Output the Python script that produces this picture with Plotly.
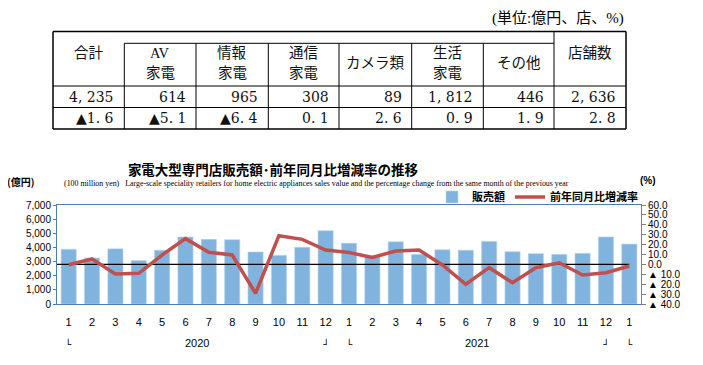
import plotly.graph_objects as go

# ---------------- data ----------------
months = ["1", "2", "3", "4", "5", "6", "7", "8", "9", "10", "11", "12",
          "1", "2", "3", "4", "5", "6", "7", "8", "9", "10", "11", "12", "1"]
years = ["2020", "2021"]
sales = [3870, 3250, 3900, 3070, 3800, 4740, 4570, 4550, 3680, 3440, 4010, 5180,
         4300, 3420, 4400, 3510, 3840, 3800, 4430, 3700, 3560, 3510, 3580, 4740, 4235]
rate = [-0.3, 5.5, -9.7, -9.0, 9.5, 26.0, 12.2, 9.5, -29.2, 29.0, 25.3, 14.5,
        12.0, 7.1, 13.5, 14.5, -0.6, -20.1, -3.3, -18.5, -3.3, 1.7, -10.7, -8.4, -1.6]
left_ticks = [0, 1000, 2000, 3000, 4000, 5000, 6000, 7000]
right_ticks = [-40, -30, -20, -10, 0, 10, 20, 30, 40, 50, 60]
right_tick_text = ["▲ 40.0", "▲ 30.0", "▲ 20.0", "▲ 10.0", "0.0", "10.0", "20.0",
                   "30.0", "40.0", "50.0", "60.0"]

table_cols = ["合計", "AV<br>家電", "情報<br>家電", "通信<br>家電", "カメラ類",
              "生活<br>家電", "その他", "店舗数"]
table_values = [4235, 614, 965, 308, 89, 1812, 446, 2636]
table_changes = [-1.6, -5.1, -6.4, 0.1, 2.6, 0.9, 1.9, 2.8]

# ---------------- layout helpers ----------------
OFF = 8  # default page body margin
W, H = 703 - OFF, 365 - OFF
# plot area in window pixels
RL, RR, RT, RB = 57, 641, 205, 304
PL, PR, PT, PB = RL - OFF, RR - OFF, RT - OFF, RB - OFF


def px(x):
    return (x - RL) / (RR - RL)


def py(y):
    return (RB - y) / (RB - RT)


n = len(months)
xs = list(range(n))

fig = go.Figure()
fig.add_trace(go.Bar(
    x=xs, y=sales, name="販売額",
    marker=dict(color="#80b4de", line=dict(color="#b8d3ec", width=0.6)),
    yaxis="y",
))
# zero reference line of the percentage axis
fig.add_trace(go.Scatter(
    x=[-0.5, n - 1], y=[0, 0], mode="lines", yaxis="y2",
    line=dict(color="black", width=1.2), showlegend=False, hoverinfo="skip",
))
fig.add_trace(go.Scatter(
    x=xs, y=rate, name="前年同月比増減率", mode="lines", yaxis="y2",
    line=dict(color="#c0504d", width=3.5),
))

anns = []
shapes = []

# year labels and bracket marks
year_pos = [(0 + 11) / 2, (12 + 23) / 2]
for yv, pos in zip(years, year_pos):
    anns.append(dict(x=pos, y=py(343), xref="x", yref="paper", text=yv, showarrow=False,
                     font=dict(family="Liberation Sans", size=11, color="black"),
                     xanchor="center", yanchor="middle"))
for idx, ch in [(0, "└"), (11, "┘"), (12, "└"), (23, "┘"), (24, "└")]:
    anns.append(dict(x=idx, y=py(344), xref="x", yref="paper", text=ch, showarrow=False,
                     font=dict(family="DejaVu Sans", size=10, color="black"),
                     xanchor="center", yanchor="middle"))

# axis unit labels
anns.append(dict(x=px(21), y=py(181), xref="paper", yref="paper", text="<b>(億円)</b>",
                 showarrow=False, xanchor="center", yanchor="middle",
                 font=dict(family="Noto Sans CJK JP", size=10, color="black")))
anns.append(dict(x=px(648), y=py(180), xref="paper", yref="paper", text="<b>(%)</b>",
                 showarrow=False, xanchor="center", yanchor="middle",
                 font=dict(family="Liberation Sans", size=10, color="black")))
# subtitle
anns.append(dict(x=px(62), y=py(183), xref="paper", yref="paper",
                 text="(100 million yen)&nbsp;&nbsp;&nbsp;Large-scale speciality retailers for home electric "
                      "appliances sales value and the percentage change from the same month of the previous year",
                 showarrow=False, xanchor="left", yanchor="middle",
                 font=dict(family="Liberation Serif", size=7.9, color="black")))
# unit note above table
anns.append(dict(x=px(626), y=py(18), xref="paper", yref="paper", text="(単位:億円、店、%)",
                 showarrow=False, xanchor="right", yanchor="middle",
                 font=dict(family="Liberation Serif, Noto Sans CJK JP", size=15, color="black")))

# ---------------- table ----------------
cols_x = [53, 124.3, 196, 268.3, 339, 411.7, 483.3, 554, 626]
T_TOP, T_IN, T_HB, T_R2, T_BOT = 31.5, 43.3, 86, 107.5, 129


def line(x0, y0, x1, y1, w=1):
    shapes.append(dict(type="line", xref="paper", yref="paper",
                       x0=px(x0), y0=py(y0), x1=px(x1), y1=py(y1),
                       line=dict(color="black", width=w)))


line(cols_x[0], T_TOP, cols_x[-1], T_TOP, 1.5)
line(cols_x[0], T_BOT, cols_x[-1], T_BOT, 1.5)
line(cols_x[0], T_TOP, cols_x[0], T_BOT, 1.5)
line(cols_x[-1], T_TOP, cols_x[-1], T_BOT, 1.5)
line(cols_x[1], T_IN, cols_x[-2], T_IN, 1)
line(cols_x[0], T_HB, cols_x[-1], T_HB, 1)
line(cols_x[0], T_R2, cols_x[-1], T_R2, 1)
for cx in cols_x[1:-2]:
    line(cx, T_IN, cx, T_BOT, 1)
line(cols_x[-2], T_TOP, cols_x[-2], T_BOT, 1)

tfont = dict(family="Liberation Serif, Noto Sans CJK JP", size=14.5, color="#111")
nfont = dict(family="DejaVu Serif, Noto Sans CJK JP", size=14, color="#111")
for i, name in enumerate(table_cols):
    cx = (cols_x[i] + cols_x[i + 1]) / 2
    parts = name.split("<br>")
    if len(parts) == 2:
        ys = [53, 73]
    elif i == 0 or i == len(table_cols) - 1:
        ys = [53]
    else:
        ys = [63.5]
    for p, yy in zip(parts, ys):
        anns.append(dict(x=px(cx), y=py(yy), xref="paper", yref="paper", text=p,
                         showarrow=False, xanchor="center", yanchor="middle", font=tfont))
    rx = cols_x[i + 1] - 8
    anns.append(dict(x=px(rx), y=py(96.7), xref="paper", yref="paper",
                     text=f"{table_values[i]:,}".replace(",", ", "),
                     showarrow=False, xanchor="right", yanchor="middle", font=nfont))
    ch = table_changes[i]
    txt = (f"▲{abs(ch):.1f}" if ch < 0 else f"{ch:.1f}").replace(".", ". ")
    anns.append(dict(x=px(rx), y=py(118.3), xref="paper", yref="paper", text=txt,
                     showarrow=False, xanchor="right", yanchor="middle", font=nfont))

fig.update_layout(
    width=W, height=H,
    margin=dict(l=PL, r=W - PR, t=PT, b=H - PB, pad=0),
    paper_bgcolor="white", plot_bgcolor="white",
    bargap=0.35,
    title=dict(text="<b>家電大型専門店販売額･前年同月比増減率の推移</b>",
               x=(273 - OFF) / W, xref="container", xanchor="center",
               y=1 - (170 - OFF) / H, yref="container", yanchor="middle",
               font=dict(family="Noto Sans CJK JP", size=13.5, color="black")),
    xaxis=dict(range=[-0.5, n - 0.5], tickvals=xs, ticktext=months, showgrid=False,
               zeroline=False, showline=True, linecolor="#4f7cb0", linewidth=1, mirror=True,
               ticks="", ticklabelstandoff=8,
               tickfont=dict(family="Liberation Sans", size=11, color="black")),
    yaxis=dict(range=[0, 7000], tickvals=left_ticks, tickformat=",", showgrid=False,
               zeroline=False, showline=True, linecolor="#4f7cb0", linewidth=1,
               ticks="outside", ticklen=3, tickcolor="#4f7cb0",
               tickfont=dict(family="Liberation Sans", size=10, color="black")),
    yaxis2=dict(range=[-40, 60], overlaying="y", side="right", tickvals=right_ticks,
                ticktext=right_tick_text, showgrid=False, zeroline=False, showline=True,
                linecolor="#808080", linewidth=1, ticks="outside", ticklen=4,
                tickcolor="#808080",
                tickfont=dict(family="Liberation Sans", size=10, color="black")),
    legend=dict(orientation="h", x=px(432), y=py(197), xanchor="left", yanchor="middle",
                xref="paper", yref="paper", bgcolor="rgba(0,0,0,0)",
                font=dict(family="Noto Sans CJK JP", size=11, color="black", weight="bold"),
                itemwidth=30, tracegroupgap=0),
    annotations=anns,
    shapes=shapes,
    showlegend=True,
)

fig.write_html("out.html")
